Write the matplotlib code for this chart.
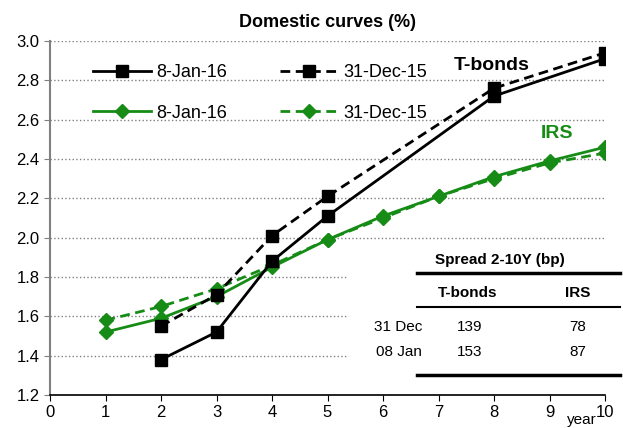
import numpy as np
import matplotlib.pyplot as plt
from matplotlib.patches import Rectangle
from matplotlib.lines import Line2D

plt.rcParams['font.family'] = ['Liberation Sans', 'DejaVu Sans']

# T-bond curve (tenor in years)
tb_years = [2, 3, 4, 5, 8, 10]
tb_jan = [1.38, 1.52, 1.88, 2.11, 2.72, 2.91]
tb_dec = [1.55, 1.71, 2.01, 2.21, 2.76, 2.94]

# IRS curve
irs_years = [1, 2, 3, 4, 5, 6, 7, 8, 9, 10]
irs_jan = [1.52, 1.59, 1.70, 1.85, 1.99, 2.11, 2.21, 2.31, 2.39, 2.46]
irs_dec = [1.58, 1.65, 1.74, 1.86, 1.99, 2.10, 2.21, 2.30, 2.38, 2.43]

# spread table
spread_rows = ['31 Dec', '08 Jan']
spread_tb = [139, 153]
spread_irs = [78, 87]

green = '#168c16'
dash = (0, (3.5, 2))

fig = plt.figure(figsize=(6.23, 4.28), dpi=100)
ax = fig.add_axes([50/623, 1 - 395/428, 555/623, 354/428])

l1, = ax.plot(tb_years, tb_jan, color='black', lw=2, marker='s', ms=9,
              label='8-Jan-16', zorder=4)
l2, = ax.plot(tb_years, tb_dec, color='black', lw=2, ls=dash, marker='s',
              ms=9, label='31-Dec-15', zorder=4)
l3, = ax.plot(irs_years, irs_jan, color=green, lw=2, marker='D', ms=7,
              label='8-Jan-16', zorder=3)
l4, = ax.plot(irs_years, irs_dec, color=green, lw=2, ls=dash, marker='D',
              ms=7, label='31-Dec-15', zorder=3)

ax.set_xlim(0, 10)
ax.set_ylim(1.2, 3.0)
ax.set_xticks(range(11))
yt = np.arange(1.2, 3.01, 0.2)
ax.set_yticks(yt)
ax.set_yticklabels([f'{v:.1f}' for v in yt])
ax.tick_params(labelsize=12, length=4, color='black')
ax.tick_params(axis='y', color='#808080')
ax.grid(axis='y', color='#808080', ls=':', lw=1)
ax.set_axisbelow(True)
for s in ['top', 'right']:
    ax.spines[s].set_visible(False)
ax.spines['left'].set_color('#808080')
ax.spines['left'].set_linewidth(1.5)
ax.spines['bottom'].set_linewidth(1.2)

ax.set_title('Domestic curves (%)', fontsize=13, fontweight='bold', pad=10)
fig.text(582/623, 1 - 420/428, 'year', fontsize=11, ha='center', va='center')

fig.text(492/623, 1 - 65/428, 'T-bonds', fontsize=14, fontweight='bold',
         ha='center', va='center')
fig.text(557/623, 1 - 134/428, 'IRS', fontsize=14, fontweight='bold',
         color=green, ha='center', va='center')

handles = [l1, l3, l2, l4]
leg = ax.legend(handles, [h.get_label() for h in handles],
                loc='upper left', bbox_to_anchor=(0.065, 0.955), ncol=2,
                frameon=False, fontsize=13, handlelength=3.2,
                columnspacing=2.9, labelspacing=1.3, handletextpad=0.3,
                borderaxespad=0)

# spread table
fig.patches.append(Rectangle((347/623, 1 - 378/428), 276/623, 128/428,
                             transform=fig.transFigure, color='white',
                             zorder=5))
def hline(y, lw):
    fig.add_artist(Line2D([417/623, 620/623], [1 - y/428, 1 - y/428],
                          color='black', lw=lw, zorder=6))
hline(273, 2.5)
hline(307, 1.5)
hline(375, 2.5)
fig.text(500/623, 1 - 260/428, 'Spread 2-10Y (bp)', fontsize=11,
         fontweight='bold', ha='center', va='center', zorder=7)
fig.text(468/623, 1 - 293/428, 'T-bonds', fontsize=11, fontweight='bold',
         ha='center', va='center', zorder=7)
fig.text(578/623, 1 - 293/428, 'IRS', fontsize=11, fontweight='bold',
         ha='center', va='center', zorder=7)
for i, row in enumerate(spread_rows):
    yy = 1 - (327 + 25 * i) / 428
    fig.text(422/623, yy, row, fontsize=11, ha='right', va='center', zorder=7)
    fig.text(470/623, yy, str(spread_tb[i]), fontsize=11, ha='center',
             va='center', zorder=7)
    fig.text(578/623, yy, str(spread_irs[i]), fontsize=11, ha='center',
             va='center', zorder=7)

fig.savefig('out.png', dpi=100)
